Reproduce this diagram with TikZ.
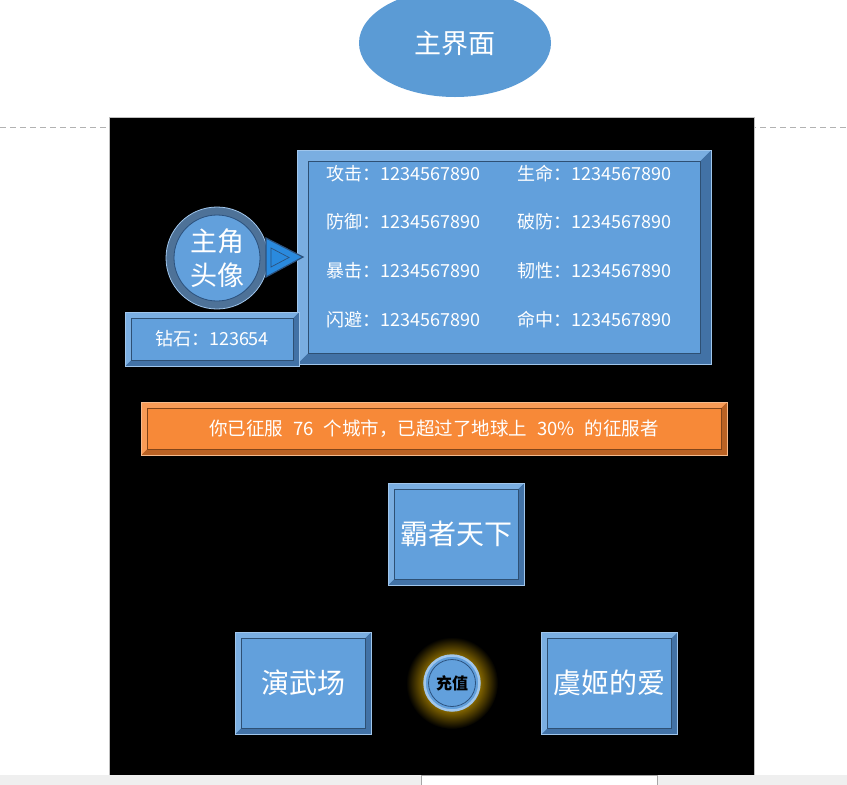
\documentclass[tikz,border=0pt]{standalone}
\usepackage{fontspec}
\setmainfont{Noto Sans CJK SC}
\usepackage{tikz}
\usetikzlibrary{shapes}
\usetikzlibrary{positioning}
\definecolor{uiblue}{RGB}{98,160,220}
\definecolor{uishade}{RGB}{66,114,166}
\definecolor{uiedge}{RGB}{160,198,236}
\definecolor{uidark}{RGB}{44,82,126}
\definecolor{pointblue}{RGB}{42,138,222}
\definecolor{uiorange}{RGB}{247,137,56}
\definecolor{orangeshade}{RGB}{186,98,36}
\definecolor{orangeedge}{RGB}{246,186,140}
\definecolor{titleblue}{RGB}{91,155,213}
\definecolor{avring}{RGB}{78,114,152}
\definecolor{glowgold}{RGB}{135,104,0}
\definecolor{pagegrey}{RGB}{239,239,239}
\pgfdeclareradialshading{glow}{\pgfpoint{0bp}{0bp}}{color(0bp)=(glowgold); color(15bp)=(glowgold); color(25bp)=(black); color(50bp)=(black)}

\begin{document}
\begin{tikzpicture}[x=1pt, y=-1pt,
  bevel/.style n args={4}{rectangle, fill=#2, draw=#4, line width=0.6pt, text=white, inner sep=0pt,
    path picture={
      \fill[#3] (path picture bounding box.south west) -- (path picture bounding box.south east)
        -- (path picture bounding box.north east) -- ([xshift=-#1,yshift=-#1]path picture bounding box.north east)
        -- ([xshift=-#1,yshift=#1]path picture bounding box.south east) -- ([xshift=#1,yshift=#1]path picture bounding box.south west) -- cycle;
      \fill[#2!85!white] (path picture bounding box.south west) -- (path picture bounding box.north west)
        -- (path picture bounding box.north east) -- ([xshift=-#1,yshift=-#1]path picture bounding box.north east)
        -- ([xshift=#1,yshift=-#1]path picture bounding box.north west) -- ([xshift=#1,yshift=#1]path picture bounding box.south west) -- cycle;
      \draw[#3!70!black, line width=0.6pt] ([xshift=#1,yshift=#1]path picture bounding box.south west) rectangle ([xshift=-#1,yshift=-#1]path picture bounding box.north east);
    }},
  bluebox/.style={bevel={#1}{uiblue}{uishade}{uiedge}},
  orangebar/.style={bevel={6pt}{uiorange}{orangeshade}{orangeedge}},
  stat/.style={anchor=west, text=white, inner sep=0pt, font=\fontsize{18}{18}\selectfont},
  bigbtn/.style={bluebox=6pt, minimum width=136, minimum height=102, font=\fontsize{28}{28}\selectfont}]
  \clip (0,0) rectangle (847,785);
  \fill[white] (0,0) rectangle (847,785);
  \draw[gray!60, dash pattern=on 6pt off 4pt] (0,127) -- (847,127);
  \node[ellipse, fill=titleblue, minimum width=192, minimum height=108, inner sep=0pt, text=white, font=\fontsize{27}{27}\selectfont] (title) at (455,43) {主界面};
  \filldraw[fill=black, draw=gray!50] (109,117) rectangle (754,775);
  \fill[pagegrey] (0,775) rectangle (847,785);
  \filldraw[fill=white, draw=gray!70] (421,775.5) rectangle (657,790);

  \node[bluebox=11pt, minimum width=414, minimum height=214] (stats) at (504,257) {};
  \foreach \y/\a/\b in {174/攻击/生命, 222/防御/破防, 271/暴击/韧性, 320/闪避/命中} {
    \node[stat] (sa\y) at (326,\y) {\a：1234567890};
    \node[stat] (sb\y) at (517,\y) {\b：1234567890};
  }
  \node[bluebox=6pt, minimum width=174, minimum height=54, font=\fontsize{18}{18}\selectfont] (gems) at (212,339) {钻石：123654};
  \node[circle, minimum size=94, inner sep=0pt, draw=avring, line width=8pt, fill=uiblue, text=white, align=center, font=\fontsize{27}{34}\selectfont] (avatar) at (217,258) {主角\\头像};
  \draw[uiedge, line width=0.8pt] (avatar.center) circle (51);
  \draw[uidark, line width=0.8pt] (avatar.center) circle (43);
  \filldraw[fill=pointblue, draw=uidark, line width=1.2pt] (266,238) -- (266,277) -- (303,257) -- cycle;
  \draw[uidark, line width=0.7pt] (271,248) -- (271,267) -- (289,257.5) -- cycle;

  \node[orangebar, minimum width=586, minimum height=53, font=\fontsize{18.5}{18.5}\selectfont] (conquer) at (434,428.5) {你已征服\hspace{10pt}76\hspace{10pt}个城市，已超过了地球上\hspace{10pt}30\%\hspace{10pt}的征服者};

  \node[bigbtn] (world) at (456,534) {霸者天下};
  \node[bigbtn] (arena) at (303,683) {演武场};
  \node[bigbtn] (love) at (609.5,683) {虞姬的爱};

  \shade[shading=glow] (452,683) circle (46);
  \node[circle, minimum size=55, inner sep=0pt, fill=uiblue, draw=uiedge, line width=2.5pt, font=\fontsize{16}{16}\selectfont\bfseries] (charge) at (452,683) {充值};
  \draw[uidark, line width=0.8pt] (charge.center) circle (23.5);
\end{tikzpicture}
\end{document}
